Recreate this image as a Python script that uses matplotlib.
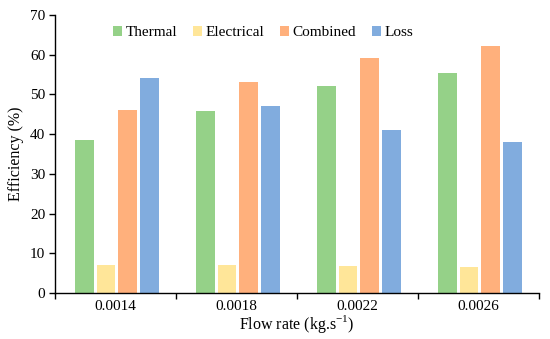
import matplotlib
matplotlib.use("Agg")
import matplotlib.pyplot as plt
import numpy as np

categories = ["0.0014", "0.0018", "0.0022", "0.0026"]
series_names = ["Thermal", "Electrical", "Combined", "Loss"]
thermal = [38.6, 45.9, 52.2, 55.5]
electrical = [7.1, 7.0, 6.8, 6.6]
combined = [46.0, 53.1, 59.2, 62.3]
loss = [54.2, 47.1, 41.0, 37.9]
colors = ["#95D188", "#FFE699", "#FFB07C", "#81ACDE"]

plt.rcParams['font.family'] = ['Liberation Serif', 'DejaVu Serif']
plt.rcParams['mathtext.fontset'] = 'custom'
plt.rcParams['mathtext.rm'] = 'Liberation Serif'

fig = plt.figure(figsize=(5.5, 3.39), dpi=100)
ax = fig.add_axes([0.1, 0.1357, 0.88, 0.82])

x = np.arange(len(categories))
slot = 0.179
width = 0.155
data = [thermal, electrical, combined, loss]
for i, (name, vals, c) in enumerate(zip(series_names, data, colors)):
    ax.bar(x + (i - 1.5) * slot + 0.01, vals, width=width, color=c, label=name, zorder=2)

ax.set_xlim(-0.5, len(categories) - 0.5)
ax.set_ylim(0, 70)
ax.set_yticks(range(0, 71, 10))
ax.set_xticks(x)
ax.set_xticklabels(categories)
ax.set_xticks(np.arange(-0.5, len(categories), 1.0), minor=True)
ax.tick_params(axis='x', which='major', length=0, pad=5, labelsize=11)
ax.tick_params(axis='x', which='minor', length=4, width=1, direction='out')
ax.tick_params(axis='y', length=4, width=1, direction='out', labelsize=11, pad=3)
for s in ['top', 'right']:
    ax.spines[s].set_visible(False)
for s in ['left', 'bottom']:
    ax.spines[s].set_linewidth(1)
ax.set_xlabel("Flow rate (kg.s$^{\\mathregular{-1}}$)", fontsize=11.5, labelpad=0)
ax.set_ylabel("Efficiency (%)", fontsize=11.5, labelpad=4)

leg = ax.legend(loc='center', bbox_to_anchor=(0.43, 0.937), ncol=4, frameon=False,
                fontsize=11, handlelength=0.6, handleheight=0.6, handletextpad=0.25,
                columnspacing=1.0)

fig.savefig("out.png", dpi=100)
